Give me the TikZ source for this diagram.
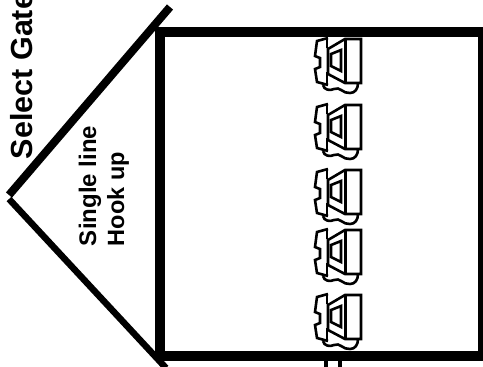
\documentclass[tikz,border=0pt]{standalone}
\usepackage{fontspec}
\setmainfont{Liberation Sans}
\tikzset{
  wall/.style={line width=10pt,line cap=butt,line join=miter},
  roofa/.style={line width=8pt},
  roofb/.style={line width=6.5pt},
  phoneline/.style={line width=2.6pt,line join=miter},
  lab/.style={rotate=90,anchor=base west,inner sep=0pt,outer sep=0pt},
  pics/phonepic/.style={code={
    % handset
    \draw[phoneline] (328,104) -- (317,107) -- (315,122) -- (320,124) -- (320,133) -- (315,135) -- (317,148) -- (328,151);
    \draw[phoneline] (327,104) -- (327,114);
    \draw[phoneline] (327,138) -- (327,150);
    % body
    \draw[phoneline] (328,115) -- (345,105) -- (361,105) -- (361,149) -- (345,149) -- (328,140) -- cycle;
    \draw[line width=3pt] (345,104) -- (345,150);
    % window
    \draw[phoneline] (331,120) -- (341,116) -- (341,137) -- (331,132) -- cycle;
    % cord
    \draw[line width=2.6pt] (323,151) .. controls (324,156) and (330,157) .. (334,155) .. controls (340,152) and (343,160) .. (350,159) .. controls (355,159) and (358,155) .. (358,149);
  }}
}
\begin{document}
\begin{tikzpicture}[x=1pt,y=-1pt]
\useasboundingbox (0,0) rectangle (483,367);
\clip (0,0) rectangle (483,367);
% bottom cable
\coordinate (c1a) at (326,351); \coordinate (c1b) at (326,367);
\coordinate (c2a) at (340,351); \coordinate (c2b) at (340,367);
\draw[line width=4pt] (c1a) -- (c1b);
\draw[line width=4pt] (c2a) -- (c2b);
% phones
\foreach \d in {-66,0,65,125,190}{
  \pic at (0,\d) {phonepic};
}
% frame
\coordinate (fa) at (160,32); \coordinate (fb) at (483,32);
\coordinate (fc) at (483,356); \coordinate (fd) at (160,356);
\draw[wall] (fa) -- (fb) -- (fc) -- (fd) -- cycle;
% roof
\coordinate (apex) at (9,195); \coordinate (rt) at (170,7);
\coordinate (apexb) at (9,199); \coordinate (rb) at (166,368);
\draw[roofa] (apex) -- (rt);
\draw[roofb] (apexb) -- (rb);
% labels
\node[lab,font=\bfseries\fontsize{30.5}{32}\selectfont] (gate) at (32.5,159) {Select Gate};
\node[lab,font=\bfseries\fontsize{24}{24}\selectfont] (single) at (96,246) {Single line};
\node[lab,font=\bfseries\fontsize{23.5}{24}\selectfont] (hook) at (124,246) {Hook up};
\end{tikzpicture}
\end{document}
